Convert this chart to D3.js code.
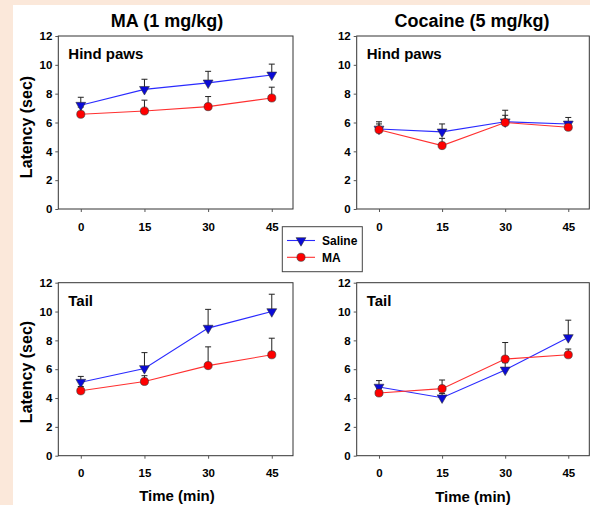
<!DOCTYPE html>
<html><head><meta charset="utf-8">
<script src="https://cdn.jsdelivr.net/npm/d3@7/dist/d3.min.js"></script>
<style>
html,body{margin:0;padding:0;background:#fbe8da;}
svg{display:block;}
text{font-family:"Liberation Sans",Arial,sans-serif;font-weight:bold;fill:#000;}
</style></head>
<body>
<script>
// ---- data ----
const timePoints = [0, 15, 30, 45];
const yTicks = [0, 2, 4, 6, 8, 10, 12];
const columnTitles = ["MA (1 mg/kg)", "Cocaine (5 mg/kg)"];
const rowLabels = ["Hind paws", "Tail"];
const seriesNames = ["Saline", "MA"];

// MA (1 mg/kg) - Hind paws
const maHindSaline = [7.2, 8.3, 8.75, 9.3];
const maHindSalineErr = [0.55, 0.7, 0.8, 0.75];
const maHindMA = [6.57, 6.8, 7.1, 7.7];
const maHindMAErr = [0.5, 0.75, 0.7, 0.75];
// Cocaine (5 mg/kg) - Hind paws
const cocHindSaline = [5.55, 5.35, 6.05, 5.9];
const cocHindSalineErr = [0.5, 0.55, 0.8, 0.45];
const cocHindMA = [5.5, 4.4, 6.0, 5.67];
const cocHindMAErr = [0.4, 0.5, 0.5, 0.4];
// MA (1 mg/kg) - Tail
const maTailSaline = [5.1, 6.05, 8.85, 10.0];
const maTailSalineErr = [0.4, 1.1, 1.3, 1.2];
const maTailMA = [4.5, 5.15, 6.25, 7.0];
const maTailMAErr = [0.3, 0.4, 1.3, 1.15];
// Cocaine (5 mg/kg) - Tail
const cocTailSaline = [4.76, 4.02, 5.95, 8.2];
const cocTailSalineErr = [0.45, 0.3, 0.5, 1.2];
const cocTailMA = [4.35, 4.65, 6.7, 7.0];
const cocTailMAErr = [0.3, 0.6, 1.15, 0.4];

const panels = [
  {col:0,row:0,saline:maHindSaline,salineErr:maHindSalineErr,ma:maHindMA,maErr:maHindMAErr},
  {col:1,row:0,saline:cocHindSaline,salineErr:cocHindSalineErr,ma:cocHindMA,maErr:cocHindMAErr},
  {col:0,row:1,saline:maTailSaline,salineErr:maTailSalineErr,ma:maTailMA,maErr:maTailMAErr},
  {col:1,row:1,saline:cocTailSaline,salineErr:cocTailSalineErr,ma:cocTailMA,maErr:cocTailMAErr}
];

// ---- layout ----
const W = 590, H = 505;
const colX = [[58.3, 293], [356.7, 589.3]];
const rowY = [[36, 209], [282.7, 455.7]];
const blue = "#2a2aff", blueFill = "#0a0ad8";
const red = "#ff3030", redFill = "#ff0000";

const svg = d3.select("body").append("svg").attr("width", W).attr("height", H);
svg.append("rect").attr("x", 13).attr("y", 5).attr("width", W - 13).attr("height", H - 5).attr("fill", "#fff");

const tri = d3.symbol().type(d3.symbolTriangle).size(42)();
const circ = d3.symbol().type(d3.symbolCircle).size(52)();

panels.forEach(p => {
  const [x0, x1] = colX[p.col];
  const [y0, y1] = rowY[p.row];
  const x = d3.scaleLinear().domain([-5.3, 50]).range([x0, x1]);
  const y = d3.scaleLinear().domain([0, 12]).range([y1, y0]);
  const g = svg.append("g");

  g.append("rect").attr("x", x0).attr("y", y0).attr("width", x1 - x0).attr("height", y1 - y0)
    .attr("fill", "none").attr("stroke", "#333").attr("stroke-width", 1);

  const xa = g.append("g").attr("transform", `translate(0,${y1})`)
    .call(d3.axisBottom(x).tickValues(timePoints).tickSize(3).tickPadding(10.5).tickFormat(d3.format("d")));
  xa.select(".domain").remove();
  xa.selectAll("line").attr("stroke", "#555");
  xa.selectAll("text").attr("font-size", 11.5).attr("fill", "#000").style("font-family", "Liberation Sans, Arial, sans-serif").style("font-weight", "bold");

  const ya = g.append("g").attr("transform", `translate(${x0},0)`)
    .call(d3.axisLeft(y).tickValues(yTicks).tickSize(3).tickPadding(3).tickFormat(d3.format("d")));
  ya.select(".domain").remove();
  ya.selectAll("line").attr("stroke", "#555");
  ya.selectAll("text").attr("font-size", 11.5).attr("fill", "#000").style("font-family", "Liberation Sans, Arial, sans-serif").style("font-weight", "bold");

  g.append("text").attr("x", x0 + 10).attr("y", y0 + 23).attr("font-size", 15).text(rowLabels[p.row]);

  const line = d3.line().x((d, i) => x(timePoints[i])).y(d => y(d));

  const series = [
    {vals: p.saline, err: p.salineErr, color: blue, fill: blueFill, sym: tri, rot: 180},
    {vals: p.ma, err: p.maErr, color: red, fill: redFill, sym: circ, rot: 0}
  ];
  series.forEach(s => {
    g.append("path").attr("d", line(s.vals)).attr("fill", "none").attr("stroke", s.color).attr("stroke-width", 1.1);
  });
  series.forEach(s => {
    s.vals.forEach((v, i) => {
      const cx = x(timePoints[i]);
      const top = y(v + s.err[i]);
      g.append("line").attr("x1", cx).attr("x2", cx).attr("y1", y(v)).attr("y2", top).attr("stroke", "#222").attr("stroke-width", 1);
      g.append("line").attr("x1", cx - 3).attr("x2", cx + 3).attr("y1", top).attr("y2", top).attr("stroke", "#222").attr("stroke-width", 1);
    });
  });
  series.forEach(s => {
    s.vals.forEach((v, i) => {
      g.append("path").attr("d", s.sym)
        .attr("transform", `translate(${x(timePoints[i])},${y(v)}) rotate(${s.rot})`)
        .attr("fill", s.fill).attr("stroke", "#333").attr("stroke-width", 0.6);
    });
  });
});

svg.append("text").attr("x", 167).attr("y", 27).attr("text-anchor", "middle").attr("font-size", 18).text(columnTitles[0]);
svg.append("text").attr("x", 472).attr("y", 27).attr("text-anchor", "middle").attr("font-size", 18).text(columnTitles[1]);

[127, 372].forEach(cy => {
  svg.append("text").attr("transform", `translate(32,${cy}) rotate(-90)`).attr("text-anchor", "middle")
    .attr("font-size", 16).text("Latency (sec)");
});
[[177, 500.5], [473, 501.5]].forEach(([cx, by]) => {
  svg.append("text").attr("x", cx).attr("y", by).attr("text-anchor", "middle").attr("font-size", 15).text("Time (min)");
});

// legend
const lg = svg.append("g");
lg.append("rect").attr("x", 282.3).attr("y", 226.7).attr("width", 80).attr("height", 45)
  .attr("fill", "#fff").attr("stroke", "#444").attr("stroke-width", 1);
const legendItems = [
  {name: seriesNames[0], color: blue, fill: blueFill, sym: tri, rot: 180, cy: 240.5},
  {name: seriesNames[1], color: red, fill: redFill, sym: circ, rot: 0, cy: 257.3}
];
legendItems.forEach(it => {
  lg.append("line").attr("x1", 287).attr("x2", 315).attr("y1", it.cy).attr("y2", it.cy).attr("stroke", it.color).attr("stroke-width", 1.1);
  lg.append("path").attr("d", it.sym).attr("transform", `translate(301,${it.cy}) rotate(${it.rot})`)
    .attr("fill", it.fill).attr("stroke", "#333").attr("stroke-width", 0.6);
  lg.append("text").attr("x", 322).attr("y", it.cy + 4.5).attr("font-size", 12).text(it.name);
});
</script>
</body></html>
